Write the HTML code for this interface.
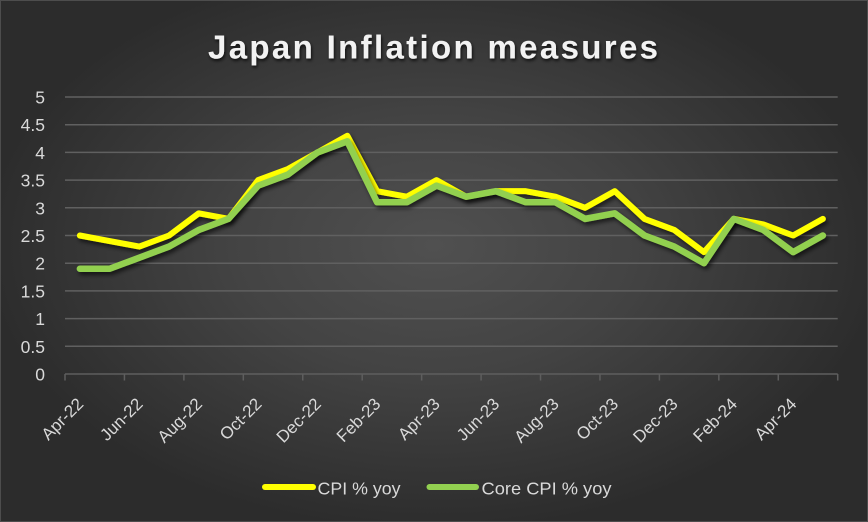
<!DOCTYPE html>
<html>
<head>
<meta charset="utf-8">
<style>
  html,body{margin:0;padding:0;background:#2a2a2a;}
  .wrap{position:relative;width:868px;height:522px;overflow:hidden;
    background:radial-gradient(ellipse 52% 55% at 50% 47%, #505050 0%, #434343 45%, #2c2c2c 100%);
    box-sizing:border-box;border:1px solid #4d4d4d;}
  svg{position:absolute;left:0;top:0;}
  text{font-family:"Liberation Sans",Arial,sans-serif;}
</style>
</head>
<body>
<div class="wrap">
<svg width="868" height="522" viewBox="0 0 868 522" xmlns="http://www.w3.org/2000/svg">
  <defs>
    <filter id="ls" x="-10%" y="-20%" width="120%" height="140%">
      <feDropShadow dx="2" dy="3" stdDeviation="2" flood-color="#000" flood-opacity="0.6"/>
    </filter>
    <filter id="ts" x="-10%" y="-30%" width="120%" height="160%">
      <feDropShadow dx="1" dy="2" stdDeviation="1.5" flood-color="#000" flood-opacity="0.75"/>
    </filter>
  </defs>

  <!-- title -->
  <text x="432" y="57.5" text-anchor="middle" font-size="33" font-weight="bold" fill="#f2f2f2" textLength="450" lengthAdjust="spacing" filter="url(#ts)">Japan Inflation measures</text>

  <!-- gridlines -->
  <g stroke="#606060" stroke-width="1.5">
    <line x1="64" y1="96" x2="836.7" y2="96"/>
    <line x1="64" y1="123.7" x2="836.7" y2="123.7"/>
    <line x1="64" y1="151.4" x2="836.7" y2="151.4"/>
    <line x1="64" y1="179.1" x2="836.7" y2="179.1"/>
    <line x1="64" y1="206.8" x2="836.7" y2="206.8"/>
    <line x1="64" y1="234.5" x2="836.7" y2="234.5"/>
    <line x1="64" y1="262.2" x2="836.7" y2="262.2"/>
    <line x1="64" y1="289.9" x2="836.7" y2="289.9"/>
    <line x1="64" y1="317.6" x2="836.7" y2="317.6"/>
    <line x1="64" y1="345.3" x2="836.7" y2="345.3"/>
  </g>
  <!-- x axis -->
  <g stroke="#5e5e5e" stroke-width="1.5">
    <line x1="64" y1="373" x2="836.7" y2="373"/>
    <line x1="64" y1="373" x2="64" y2="379.5"/>
    <line x1="123.44" y1="373" x2="123.44" y2="379.5"/>
    <line x1="182.88" y1="373" x2="182.88" y2="379.5"/>
    <line x1="242.32" y1="373" x2="242.32" y2="379.5"/>
    <line x1="301.76" y1="373" x2="301.76" y2="379.5"/>
    <line x1="361.2" y1="373" x2="361.2" y2="379.5"/>
    <line x1="420.64" y1="373" x2="420.64" y2="379.5"/>
    <line x1="480.08" y1="373" x2="480.08" y2="379.5"/>
    <line x1="539.52" y1="373" x2="539.52" y2="379.5"/>
    <line x1="598.96" y1="373" x2="598.96" y2="379.5"/>
    <line x1="658.4" y1="373" x2="658.4" y2="379.5"/>
    <line x1="717.84" y1="373" x2="717.84" y2="379.5"/>
    <line x1="777.28" y1="373" x2="777.28" y2="379.5"/>
    <line x1="836.7" y1="373" x2="836.7" y2="379.5"/>
  </g>

  <!-- y labels -->
  <g font-size="17.5" fill="#d9d9d9" text-anchor="end">
    <text x="44" y="102.5">5</text>
    <text x="44" y="130.2">4.5</text>
    <text x="44" y="157.9">4</text>
    <text x="44" y="185.6">3.5</text>
    <text x="44" y="213.3">3</text>
    <text x="44" y="241">2.5</text>
    <text x="44" y="268.7">2</text>
    <text x="44" y="296.4">1.5</text>
    <text x="44" y="324.1">1</text>
    <text x="44" y="351.8">0.5</text>
    <text x="44" y="379.5">0</text>
  </g>

  <!-- x labels -->
  <g font-size="17" fill="#d9d9d9" text-anchor="end">
    <text transform="translate(83.4,404) rotate(-45)">Apr-22</text>
    <text transform="translate(142.8,404) rotate(-45)">Jun-22</text>
    <text transform="translate(202.2,404) rotate(-45)">Aug-22</text>
    <text transform="translate(261.7,404) rotate(-45)">Oct-22</text>
    <text transform="translate(321.1,404) rotate(-45)">Dec-22</text>
    <text transform="translate(380.6,404) rotate(-45)">Feb-23</text>
    <text transform="translate(440,404) rotate(-45)">Apr-23</text>
    <text transform="translate(499.4,404) rotate(-45)">Jun-23</text>
    <text transform="translate(558.9,404) rotate(-45)">Aug-23</text>
    <text transform="translate(618.3,404) rotate(-45)">Oct-23</text>
    <text transform="translate(677.8,404) rotate(-45)">Dec-23</text>
    <text transform="translate(737.2,404) rotate(-45)">Feb-24</text>
    <text transform="translate(796.6,404) rotate(-45)">Apr-24</text>
  </g>

  <!-- series -->
  <g fill="none" stroke-linejoin="round" stroke-linecap="round" filter="url(#ls)">
    <polyline stroke="#ffff00" stroke-width="6" points="78.86,234.5 108.58,240.04 138.3,245.58 168.02,234.5 197.74,212.34 227.46,217.88 257.18,179.1 286.9,168.02 316.62,151.4 346.34,134.78 376.06,190.18 405.78,195.72 435.5,179.1 465.22,195.72 494.94,190.18 524.66,190.18 554.38,195.72 584.1,206.8 613.82,190.18 643.54,217.88 673.26,228.96 702.98,251.12 732.7,217.88 762.42,223.42 792.14,234.5 821.86,217.88"/>
  </g>
  <g fill="none" stroke-linejoin="round" stroke-linecap="round" filter="url(#ls)">
    <polyline stroke="#92d050" stroke-width="6.5" points="78.86,267.74 108.58,267.74 138.3,256.66 168.02,245.58 197.74,228.96 227.46,217.88 257.18,184.64 286.9,173.56 316.62,151.4 346.34,140.32 376.06,201.26 405.78,201.26 435.5,184.64 465.22,195.72 494.94,190.18 524.66,201.26 554.38,201.26 584.1,217.88 613.82,212.34 643.54,234.5 673.26,245.58 702.98,262.2 732.7,217.88 762.42,228.96 792.14,251.12 821.86,234.5"/>
  </g>

  <!-- legend -->
  <line x1="264" y1="486" x2="312" y2="486" stroke="#ffff00" stroke-width="6" stroke-linecap="round"/>
  <text x="316.5" y="493.3" font-size="17.5" fill="#d9d9d9" textLength="83" lengthAdjust="spacingAndGlyphs">CPI % yoy</text>
  <line x1="428.5" y1="486" x2="475" y2="486" stroke="#92d050" stroke-width="6" stroke-linecap="round"/>
  <text x="480.5" y="493.3" font-size="17.5" fill="#d9d9d9" textLength="130" lengthAdjust="spacingAndGlyphs">Core CPI % yoy</text>
</svg>
</div>
</body>
</html>
